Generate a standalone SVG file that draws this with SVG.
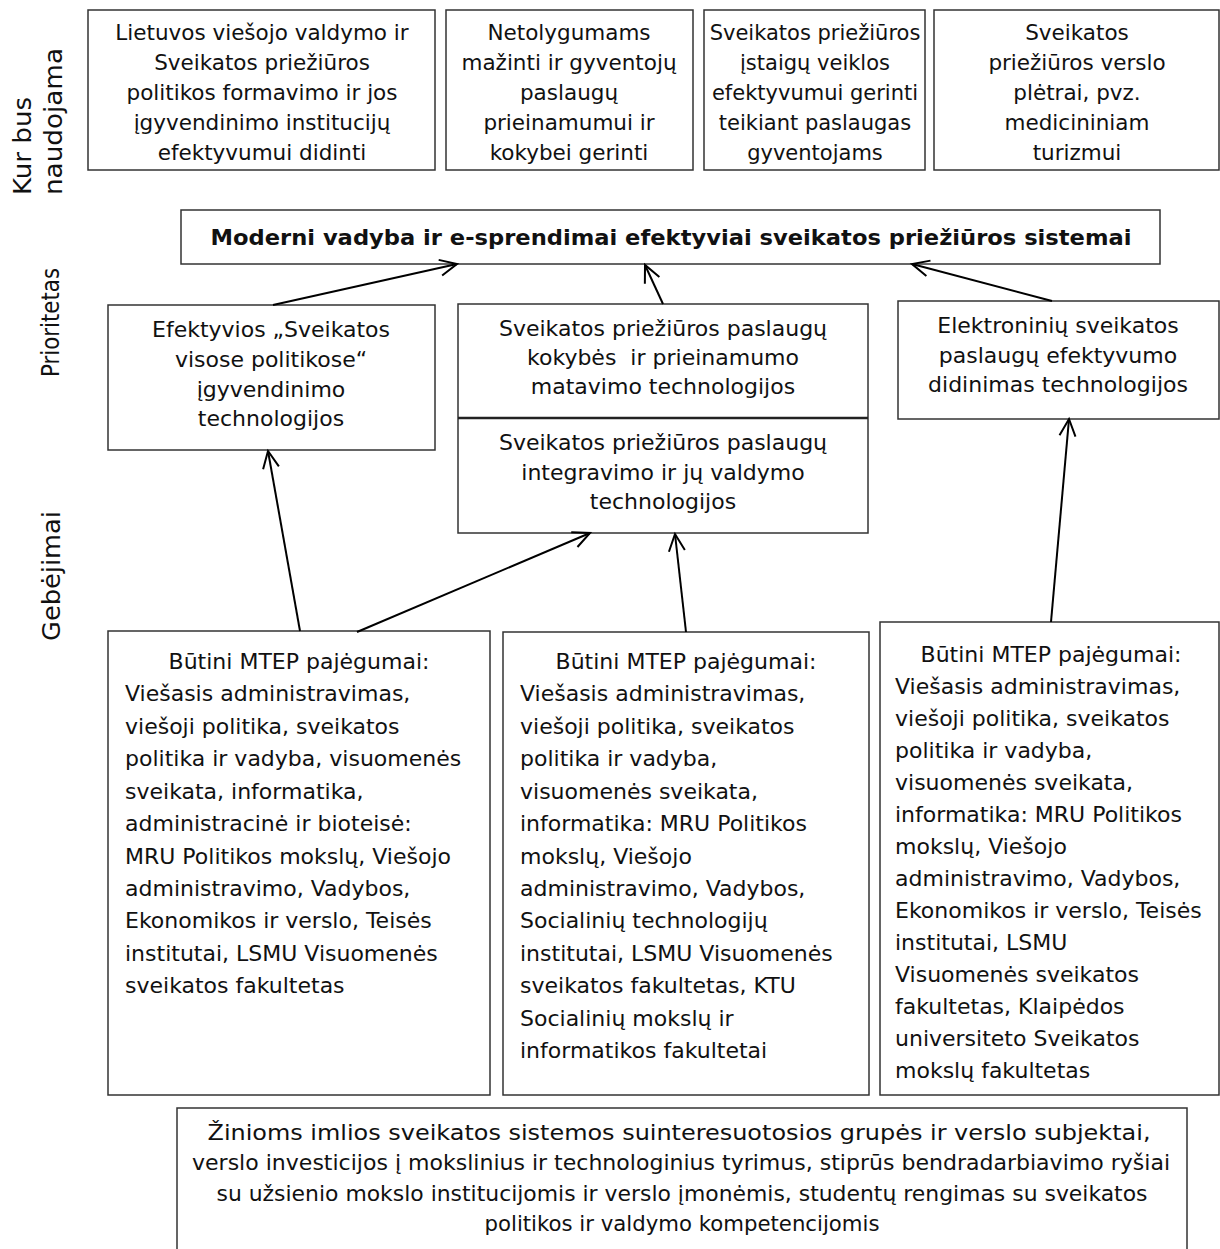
<svg xmlns="http://www.w3.org/2000/svg" width="1220" height="1249" viewBox="0 0 1220 1249">
<style>
.box{fill:#fff;stroke:#333;stroke-width:1.5}
.t{font-family:"DejaVu Sans",sans-serif;font-size:21.5px;fill:#111}
.s21{font-size:21px}
.s22{font-size:22px}
.c{text-anchor:middle}
.b{font-weight:bold}
.lab{font-family:"DejaVu Sans",sans-serif;font-size:24px;fill:#111}
.con{stroke:#000;stroke-width:2;fill:none}
</style>
<defs>
<marker id="ah" markerUnits="userSpaceOnUse" markerWidth="40" markerHeight="40" viewBox="-20 -20 40 40" refX="0" refY="0" orient="auto">
<path d="M-17,-8 L0,0 L-17,8" fill="none" stroke="#000" stroke-width="2"/>
</marker>
</defs>

<g id="labels">
<text class="lab" transform="translate(31,195) rotate(-90)" textLength="98" lengthAdjust="spacingAndGlyphs">Kur bus</text>
<text class="lab" transform="translate(62,195) rotate(-90)" textLength="147" lengthAdjust="spacingAndGlyphs">naudojama</text>
<text class="lab" transform="translate(59,377) rotate(-90)" textLength="109" lengthAdjust="spacingAndGlyphs">Prioritetas</text>
<text class="lab" transform="translate(60,641) rotate(-90)" textLength="130" lengthAdjust="spacingAndGlyphs">Gebėjimai</text>
</g>

<g id="use1">
<rect class="box" x="88" y="10" width="347" height="160"/>
<text class="t c"><tspan x="262" y="40">Lietuvos viešojo valdymo ir</tspan><tspan x="262" y="70">Sveikatos priežiūros</tspan><tspan x="262" y="100">politikos formavimo ir jos</tspan><tspan x="262" y="130">įgyvendinimo institucijų</tspan><tspan x="262" y="160">efektyvumui didinti</tspan></text>
</g>
<g id="use2">
<rect class="box" x="446" y="10" width="247" height="160"/>
<text class="t c"><tspan x="569" y="40">Netolygumams</tspan><tspan x="569" y="70">mažinti ir gyventojų</tspan><tspan x="569" y="100">paslaugų</tspan><tspan x="569" y="130">prieinamumui ir</tspan><tspan x="569" y="160">kokybei gerinti</tspan></text>
</g>
<g id="use3">
<rect class="box" x="704" y="10" width="221" height="160"/>
<text class="t s21 c"><tspan x="815" y="40">Sveikatos priežiūros</tspan><tspan x="815" y="70">įstaigų veiklos</tspan><tspan x="815" y="100">efektyvumui gerinti</tspan><tspan x="815" y="130">teikiant paslaugas</tspan><tspan x="815" y="160">gyventojams</tspan></text>
</g>
<g id="use4">
<rect class="box" x="934" y="10" width="285" height="160"/>
<text class="t c"><tspan x="1077" y="40">Sveikatos</tspan><tspan x="1077" y="70">priežiūros verslo</tspan><tspan x="1077" y="100">plėtrai, pvz.</tspan><tspan x="1077" y="130">medicininiam</tspan><tspan x="1077" y="160">turizmui</tspan></text>
</g>

<g id="title">
<rect class="box" x="181" y="210" width="979" height="54"/>
<text class="t s22 c b" x="671" y="245" textLength="921" lengthAdjust="spacingAndGlyphs">Moderni vadyba ir e-sprendimai efektyviai sveikatos priežiūros sistemai</text>
</g>

<g id="prio1">
<rect class="box" x="108" y="305" width="327" height="145"/>
<text class="t s22 c"><tspan x="271" y="337">Efektyvios „Sveikatos</tspan><tspan x="271" y="367">visose politikose“</tspan><tspan x="271" y="397">įgyvendinimo</tspan><tspan x="271" y="426">technologijos</tspan></text>
</g>
<g id="prio2">
<rect class="box" x="458" y="304" width="410" height="229"/>
<line x1="458" y1="418" x2="868" y2="418" stroke="#222" stroke-width="2.5"/>
<text class="t s22 c" xml:space="preserve"><tspan x="663" y="336">Sveikatos priežiūros paslaugų</tspan><tspan x="663" y="365">kokybės  ir prieinamumo</tspan><tspan x="663" y="394">matavimo technologijos</tspan></text>
<text class="t s22 c"><tspan x="663" y="450">Sveikatos priežiūros paslaugų</tspan><tspan x="663" y="480">integravimo ir jų valdymo</tspan><tspan x="663" y="509">technologijos</tspan></text>
</g>
<g id="prio3">
<rect class="box" x="898" y="301" width="321" height="118"/>
<text class="t s22 c"><tspan x="1058" y="333">Elektroninių sveikatos</tspan><tspan x="1058" y="363">paslaugų efektyvumo</tspan><tspan x="1058" y="392">didinimas technologijos</tspan></text>
</g>

<g id="cap1">
<rect class="box" x="108" y="631" width="382" height="464"/>
<text class="t s22 c" x="299" y="669">Būtini MTEP pajėgumai:</text>
<text class="t s22"><tspan x="125" y="701">Viešasis administravimas,</tspan><tspan x="125" y="734">viešoji politika, sveikatos</tspan><tspan x="125" y="766">politika ir vadyba, visuomenės</tspan><tspan x="125" y="799">sveikata, informatika,</tspan><tspan x="125" y="831">administracinė ir bioteisė:</tspan><tspan x="125" y="864">MRU Politikos mokslų, Viešojo</tspan><tspan x="125" y="896">administravimo, Vadybos,</tspan><tspan x="125" y="928">Ekonomikos ir verslo, Teisės</tspan><tspan x="125" y="961">institutai, LSMU Visuomenės</tspan><tspan x="125" y="993">sveikatos fakultetas</tspan></text>
</g>
<g id="cap2">
<rect class="box" x="503" y="632" width="366" height="463"/>
<text class="t s22 c" x="686" y="669">Būtini MTEP pajėgumai:</text>
<text class="t s22"><tspan x="520" y="701">Viešasis administravimas,</tspan><tspan x="520" y="734">viešoji politika, sveikatos</tspan><tspan x="520" y="766">politika ir vadyba,</tspan><tspan x="520" y="799">visuomenės sveikata,</tspan><tspan x="520" y="831">informatika: MRU Politikos</tspan><tspan x="520" y="864">mokslų, Viešojo</tspan><tspan x="520" y="896">administravimo, Vadybos,</tspan><tspan x="520" y="928">Socialinių technologijų</tspan><tspan x="520" y="961">institutai, LSMU Visuomenės</tspan><tspan x="520" y="993">sveikatos fakultetas, KTU</tspan><tspan x="520" y="1026">Socialinių mokslų ir</tspan><tspan x="520" y="1058">informatikos fakultetai</tspan></text>
</g>
<g id="cap3">
<rect class="box" x="880" y="622" width="339" height="473"/>
<text class="t s22 c" x="1051" y="662">Būtini MTEP pajėgumai:</text>
<text class="t s22"><tspan x="895" y="694">Viešasis administravimas,</tspan><tspan x="895" y="726">viešoji politika, sveikatos</tspan><tspan x="895" y="758">politika ir vadyba,</tspan><tspan x="895" y="790">visuomenės sveikata,</tspan><tspan x="895" y="822">informatika: MRU Politikos</tspan><tspan x="895" y="854">mokslų, Viešojo</tspan><tspan x="895" y="886">administravimo, Vadybos,</tspan><tspan x="895" y="918">Ekonomikos ir verslo, Teisės</tspan><tspan x="895" y="950">institutai, LSMU</tspan><tspan x="895" y="982">Visuomenės sveikatos</tspan><tspan x="895" y="1014">fakultetas, Klaipėdos</tspan><tspan x="895" y="1046">universiteto Sveikatos</tspan><tspan x="895" y="1078">mokslų fakultetas</tspan></text>
</g>

<g id="base">
<rect class="box" x="177" y="1108" width="1010" height="160"/>
<text class="t s22 c" x="679" y="1140" textLength="943" lengthAdjust="spacingAndGlyphs">Žinioms imlios sveikatos sistemos suinteresuotosios grupės ir verslo subjektai,</text>
<text class="t s22 c" x="681" y="1170" textLength="978" lengthAdjust="spacingAndGlyphs">verslo investicijos į mokslinius ir technologinius tyrimus, stiprūs bendradarbiavimo ryšiai</text>
<text class="t s22 c" x="682" y="1201" textLength="931" lengthAdjust="spacingAndGlyphs">su užsienio mokslo institucijomis ir verslo įmonėmis, studentų rengimas su sveikatos</text>
<text class="t s22 c" x="682" y="1231" textLength="395" lengthAdjust="spacingAndGlyphs">politikos ir valdymo kompetencijomis</text>
</g>

<g id="connectors">
<line class="con" x1="273" y1="305" x2="457" y2="264" marker-end="url(#ah)"/>
<line class="con" x1="663" y1="304" x2="645" y2="265" marker-end="url(#ah)"/>
<line class="con" x1="1052" y1="301" x2="912" y2="264" marker-end="url(#ah)"/>
<line class="con" x1="300" y1="631" x2="268" y2="451" marker-end="url(#ah)"/>
<line class="con" x1="357" y1="632" x2="590" y2="533" marker-end="url(#ah)"/>
<line class="con" x1="686" y1="632" x2="675" y2="534" marker-end="url(#ah)"/>
<line class="con" x1="1051" y1="622" x2="1069" y2="419" marker-end="url(#ah)"/>
</g>
</svg>
